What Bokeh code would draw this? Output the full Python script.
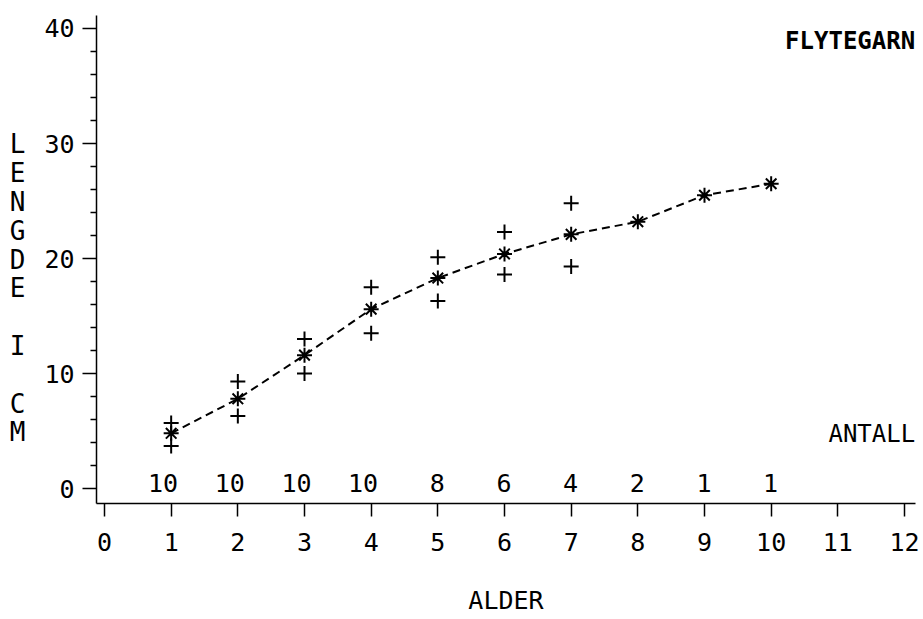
from bokeh.plotting import figure
from bokeh.models import Label, FixedTicker, ColumnDataSource, Range1d
from bokeh.core.properties import value
from bokeh.embed import file_html
from bokeh.resources import INLINE

# ---- data ----
ages = [1, 2, 3, 4, 5, 6, 7, 8, 9, 10]
mean_len = [4.8, 7.8, 11.6, 15.6, 18.3, 20.4, 22.1, 23.2, 25.5, 26.5]
range_ages = [1, 2, 3, 4, 5, 6, 7]
upper_len = [5.7, 9.3, 13.0, 17.5, 20.1, 22.3, 24.8]
lower_len = [3.7, 6.3, 10.0, 13.5, 16.3, 18.6, 19.3]
antall = [10, 10, 10, 10, 8, 6, 4, 2, 1, 1]
x_ticks = [0, 1, 2, 3, 4, 5, 6, 7, 8, 9, 10, 11, 12]
y_ticks = [0, 10, 20, 30, 40]
y_minor = [2, 4, 6, 8, 12, 14, 16, 18, 22, 24, 26, 28, 32, 34, 36, 38]
y_title = ["L", "E", "N", "G", "D", "E", "", "I", "", "C", "M"]
x_title = "ALDER"

FONT = "DejaVu Sans Mono"

p = figure(width=923, height=619, output_backend="svg", toolbar_location=None,
           x_range=Range1d(-0.12, 12.165), y_range=Range1d(-1.3, 41.13),
           min_border_left=96, min_border_right=8, min_border_top=15, min_border_bottom=116)
p.outline_line_color = None
p.grid.grid_line_color = None
p.background_fill_color = "white"
p.border_fill_color = "white"

# x axis
xa = p.xaxis[0]
xa.ticker = FixedTicker(ticks=x_ticks)
xa.major_tick_out = 13
xa.major_tick_in = 0
xa.minor_tick_out = 0
xa.major_label_standoff = 16
xa.axis_line_width = 1.5
xa.major_tick_line_width = 1.5
xa.major_label_text_font = FONT
xa.major_label_text_font_size = "25px"
xa.major_label_text_color = "black"
xa.axis_label = x_title
xa.axis_label_text_font = FONT
xa.axis_label_text_font_size = "25px"
xa.axis_label_text_font_style = "normal"
xa.axis_label_text_color = "black"
xa.axis_label_standoff = 32

# y axis
ya = p.yaxis[0]
ya.ticker = FixedTicker(ticks=y_ticks, minor_ticks=y_minor)
ya.major_tick_out = 14
ya.major_tick_in = 0
ya.minor_tick_out = 6
ya.minor_tick_in = 0
ya.major_label_standoff = 8
ya.axis_line_width = 1.5
ya.major_tick_line_width = 1.5
ya.minor_tick_line_width = 1.5
ya.minor_tick_line_color = "black"
ya.major_label_text_font = FONT
ya.major_label_text_font_size = "25px"
ya.major_label_text_color = "black"
ya.axis_label = "\n".join([" ", " "] + [c if c else " " for c in y_title])
ya.axis_label_orientation = "horizontal"
ya.axis_label_text_font = FONT
ya.axis_label_text_font_size = "26px"
ya.axis_label_text_font_style = "normal"
ya.axis_label_text_color = "black"
ya.axis_label_text_line_height = 0.96
ya.axis_label_standoff = 16

# mean line and markers
src = ColumnDataSource(dict(x=ages, y=mean_len, n=[str(a) for a in antall]))
p.line("x", "y", source=src, line_color="black", line_width=2, line_dash="8 5")
p.scatter("x", "y", source=src, marker="asterisk", size=15, line_color="black", line_width=2)

rsrc = ColumnDataSource(dict(x=range_ages + range_ages, y=upper_len + lower_len))
p.scatter("x", "y", source=rsrc, marker="cross", size=15, line_color="black", line_width=2)

# counts (ANTALL) along the bottom
p.text(x="x", y=0.5, text="n", source=src, text_font=value(FONT), text_font_size="25px",
       text_align="right", text_baseline="middle", x_offset=7, text_color="black")

p.add_layout(Label(x=12.16, y=4.7, text="ANTALL", text_font=FONT, text_font_size="24px",
                   text_align="right", text_baseline="middle", text_color="black"))
p.add_layout(Label(x=12.16, y=38.9, text="FLYTEGARN", text_font=FONT, text_font_size="24px",
                   text_font_style="bold", text_align="right", text_baseline="middle",
                   text_color="black"))

open("out.html", "w").write(file_html(p, INLINE))
